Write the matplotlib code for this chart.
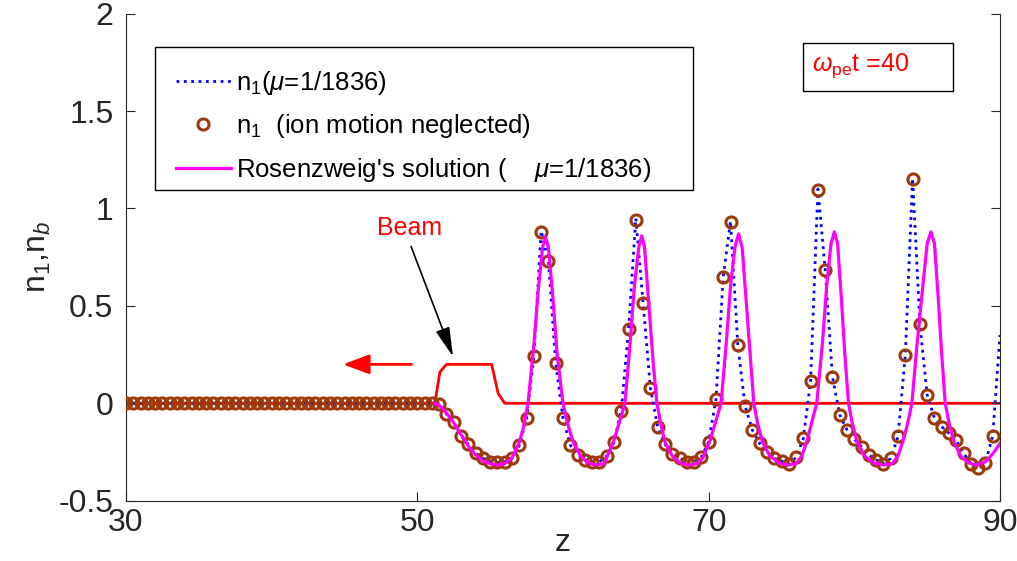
import numpy as np
import matplotlib.pyplot as plt
import matplotlib.patches as mpatches

plt.rcParams['font.family'] = ['Liberation Sans', 'DejaVu Sans']
plt.rcParams['mathtext.fontset'] = 'custom'
plt.rcParams['mathtext.rm'] = 'Liberation Sans'
plt.rcParams['mathtext.it'] = 'Liberation Sans:italic'
plt.rcParams['mathtext.bf'] = 'Liberation Sans:bold'

# n1 with ion motion neglected (circles), sampled every 0.5 in z
z_circ = np.arange(30, 89.75, 0.5)
n1_circ = [0.0] * 42 + [
    0.0, -0.005, -0.055, -0.096, -0.168, -0.21, -0.257, -0.283, -0.30, -0.303,
    -0.30, -0.283, -0.216, -0.077, 0.243, 0.879, 0.728, 0.206, -0.077, -0.214,
    -0.266, -0.29, -0.30, -0.30, -0.27, -0.20, -0.038, 0.38, 0.942, 0.514,
    0.077, -0.12, -0.21, -0.26, -0.283, -0.30, -0.30, -0.275, -0.197, 0.02,
    0.65, 0.929, 0.30, -0.014, -0.137, -0.206, -0.249, -0.283, -0.297, -0.31,
    -0.278, -0.18, 0.116, 1.097, 0.685, 0.134, -0.06, -0.137, -0.185, -0.223,
    -0.266, -0.29, -0.31, -0.283, -0.17, 0.248, 1.153, 0.408, 0.043, -0.077,
    -0.12, -0.154, -0.19, -0.257, -0.31, -0.33, -0.305, -0.167]

# n1 with mu = 1/1836 (blue dotted)
z_blue = np.arange(30, 90.25, 0.5)
n1_blue = [0.0] * 42 + [
    0.0, -0.005, -0.055, -0.096, -0.168, -0.21, -0.257, -0.283, -0.30, -0.303,
    -0.30, -0.283, -0.216, -0.077, 0.243, 0.885, 0.728, 0.206, -0.077, -0.214,
    -0.266, -0.29, -0.30, -0.30, -0.27, -0.20, -0.038, 0.38, 0.95, 0.514,
    0.077, -0.12, -0.21, -0.26, -0.283, -0.30, -0.30, -0.275, -0.197, 0.02,
    0.65, 0.935, 0.30, -0.014, -0.137, -0.206, -0.249, -0.283, -0.297, -0.31,
    -0.278, -0.18, 0.116, 1.10, 0.685, 0.134, -0.06, -0.137, -0.185, -0.223,
    -0.266, -0.29, -0.31, -0.283, -0.17, 0.248, 1.155, 0.408, 0.043, -0.077,
    -0.12, -0.154, -0.19, -0.257, -0.31, -0.33, -0.305, -0.167, 0.35]

# Rosenzweig's solution
z_ros = [51.2, 51.5, 52.0, 52.5, 53.0, 53.5, 54.0, 54.5, 55.0, 55.5, 56.0, 56.5,
         57.0, 57.3, 57.6, 58.0, 58.3, 58.6, 58.8, 59.0, 59.3, 59.6, 60.0, 60.3,
         60.7, 61.2, 61.7, 62.2, 62.8, 63.0, 63.5, 63.9, 64.25, 64.6, 64.9, 65.2,
         65.4, 65.6, 65.9, 66.2, 66.45, 66.7, 67.0, 67.5, 68.0, 68.6, 69.2, 69.6,
         70.1, 70.5, 70.85, 71.2, 71.5, 71.8, 72.05, 72.3, 72.6, 72.9, 73.1, 73.35,
         73.7, 74.2, 74.8, 75.45, 76.0, 76.4, 76.8, 77.1, 77.42, 77.8, 78.1, 78.4,
         78.63, 78.85, 79.1, 79.35, 79.6, 79.85, 80.2, 80.7, 81.3, 82.0, 82.6, 83.0,
         83.4, 83.7, 83.95, 84.3, 84.7, 85.0, 85.26, 85.5, 85.75, 86.0, 86.24, 86.5,
         86.85, 87.3, 87.8, 88.4, 89.0, 89.5, 90.0]
n1_ros = [0.0, -0.01, -0.05, -0.10, -0.16, -0.22, -0.265, -0.295, -0.31, -0.318, -0.31, -0.28,
          -0.2, -0.12, 0.0, 0.3, 0.58, 0.8, 0.855, 0.8, 0.55, 0.25, 0.0, -0.1,
          -0.2, -0.27, -0.305, -0.317, -0.31, -0.28, -0.19, -0.09, 0.0, 0.3, 0.6, 0.8,
          0.86, 0.8, 0.5, 0.2, 0.0, -0.1, -0.2, -0.27, -0.305, -0.317, -0.31, -0.28,
          -0.19, -0.09, 0.0, 0.3, 0.6, 0.8, 0.87, 0.8, 0.5, 0.2, 0.0, -0.1,
          -0.2, -0.27, -0.305, -0.317, -0.31, -0.27, -0.18, -0.09, 0.0, 0.3, 0.6, 0.82,
          0.88, 0.82, 0.55, 0.25, 0.0, -0.1, -0.2, -0.27, -0.305, -0.317, -0.31, -0.27,
          -0.18, -0.09, 0.0, 0.3, 0.6, 0.82, 0.88, 0.82, 0.55, 0.25, 0.0, -0.1,
          -0.2, -0.27, -0.305, -0.317, -0.3, -0.26, -0.206]

# beam density
z_beam = [30, 51.2, 51.55, 52.0, 55.1, 55.55, 56.0, 90]
n_beam = [0, 0, 0.16, 0.2, 0.2, 0.05, 0, 0]

fig = plt.figure(figsize=(10.17, 5.61), dpi=100)
ax = fig.add_axes([126 / 1017, 1 - 500.7 / 561, 874 / 1017, 487 / 561])

ax.plot(z_beam, n_beam, color='red', lw=2, zorder=1)
l_blue, = ax.plot(z_blue, n1_blue, color='blue', ls=':', lw=2, zorder=2)
l_circ, = ax.plot(z_circ, n1_circ, ls='none', marker='o', ms=8, mfc='none',
                  mec='#9c3a0a', mew=2.2, zorder=3)
l_ros, = ax.plot(z_ros, n1_ros, color='magenta', lw=2.3, zorder=4)

ax.set_xlim(30, 90)
ax.set_ylim(-0.5, 2)
ax.set_xticks([30, 50, 70, 90])
ax.set_yticks([-0.5, 0, 0.5, 1, 1.5, 2])
ax.set_yticklabels(['-0.5', '0', '0.5', '1', '1.5', '2'])
ax.tick_params(direction='in', length=6.5, width=0.8, labelsize=23,
               colors='#262626', right=True, top=False)
ax.tick_params(axis='x', pad=5)
ax.tick_params(axis='y', pad=9)
for s in ['left', 'bottom', 'right']:
    ax.spines[s].set_color('#262626')
ax.spines['top'].set_visible(False)

ax.set_xlabel('z', fontsize=23, color='#262626', labelpad=-7)
ax.set_ylabel('n$_1$,n$_b$', fontsize=23, color='#262626', labelpad=4)

# legend without frame plus a fixed box like the original
leg = ax.legend([l_blue, l_circ, l_ros],
                ['n$_1$($\\mu$=1/1836)', 'n$_1$  (ion motion neglected)',
                 "Rosenzweig's solution (    $\\mu$=1/1836)"],
                loc='upper left', bbox_to_anchor=(0.057, 0.887), fontsize=18.5,
                frameon=False, handlelength=2.15, handletextpad=0.2,
                labelspacing=0.6, borderpad=0, numpoints=1, borderaxespad=0)
ax.add_patch(mpatches.Rectangle((0.0332, 0.6378), 0.6156, 0.2936, transform=ax.transAxes,
                                fill=False, edgecolor='black', lw=1, zorder=5))

ax.add_patch(mpatches.Rectangle((0.7746, 0.8413), 0.1716, 0.0986, transform=ax.transAxes,
                                fill=False, edgecolor='black', lw=1, zorder=5))
ax.text(0.7845, 0.893, '$\\omega_{\\rm pe}$t =40', transform=ax.transAxes,
        color='red', fontsize=18, va='center', ha='left')

ax.text(49.5, 0.9, 'Beam', color='red', fontsize=18, ha='center', va='center')
ax.annotate('', xy=(52.45, 0.24), xytext=(49.57, 0.805),
            arrowprops=dict(arrowstyle=mpatches.ArrowStyle('-|>', head_length=0.9, head_width=0.22),
                            color='black', lw=1.2, mutation_scale=20, shrinkA=0, shrinkB=0))
ax.annotate('', xy=(44.9, 0.2), xytext=(49.6, 0.2),
            arrowprops=dict(arrowstyle=mpatches.ArrowStyle('-|>', head_length=0.8, head_width=0.3),
                            color='red', lw=2, mutation_scale=20, shrinkA=0, shrinkB=0))

fig.savefig('out.png', dpi=100)
